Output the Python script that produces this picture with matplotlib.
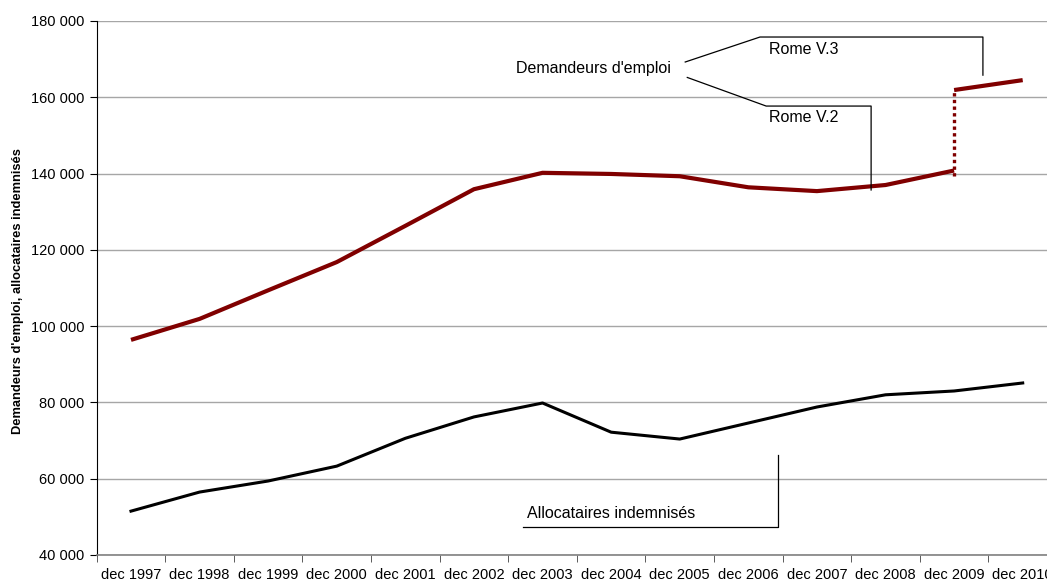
import matplotlib
matplotlib.use("Agg")
import matplotlib.pyplot as plt
import numpy as np
from matplotlib.ticker import FuncFormatter, FixedLocator

plt.rcParams['font.family'] = ['Liberation Sans', 'DejaVu Sans']

categories = ["dec 1997", "dec 1998", "dec 1999", "dec 2000", "dec 2001", "dec 2002",
              "dec 2003", "dec 2004", "dec 2005", "dec 2006", "dec 2007", "dec 2008",
              "dec 2009", "dec 2010"]
demandeurs_v2 = [96400, 101900, 109400, 116800, 126300, 135900, 140200, 139900,
                 139300, 136400, 135400, 137000, 140800]
demandeurs_v3 = [161900, 164500]  # dec 2009, dec 2010
allocataires = [51500, 56500, 59400, 63300, 70600, 76200, 79850, 72200,
                70400, 74600, 78800, 82000, 83000, 85100]

fig = plt.figure(figsize=(10.47, 5.82), dpi=100)
left = 96.7 / 1047
right = 1057 / 1047
top = 1 - 21 / 582
bottom = 1 - 555 / 582
ax = fig.add_axes([left, bottom, right - left, top - bottom])

x = np.arange(len(categories))
red = "#800000"
ax.plot(x[:13], demandeurs_v2, color=red, lw=3.0, solid_capstyle='butt', zorder=3)
ax.plot(x[12:], demandeurs_v3, color=red, lw=3.0, solid_capstyle='butt', zorder=3)
ax.plot([x[12], x[12]], [139300, demandeurs_v3[0]], color=red, lw=2.4,
        linestyle=(0, (1, 1)), zorder=3)
ax.plot(x, allocataires, color="black", lw=2.2, zorder=3)

ax.set_xlim(-0.5, len(categories) - 0.5)
ax.set_ylim(40000, 180000)
ax.set_yticks(np.arange(40000, 180001, 20000))
ax.yaxis.set_major_formatter(FuncFormatter(lambda v, p: f"{int(v):,}".replace(",", " ")))
ax.set_xticks(x)
ax.set_xticklabels(categories)
ax.xaxis.set_minor_locator(FixedLocator(np.arange(-0.5, len(categories), 1.0)))
ax.tick_params(axis='x', which='major', length=0, pad=9.5, labelsize=10.5)
ax.tick_params(axis='x', which='minor', length=5, direction='out', color='#404040')
ax.tick_params(axis='y', length=5, direction='out', labelsize=10.5, pad=4)
ax.grid(axis='y', color='#a6a6a6', lw=1.0)
ax.set_axisbelow(True)
for s in ['top', 'right']:
    ax.spines[s].set_visible(False)
ax.spines['left'].set_color('black')
ax.spines['bottom'].set_color('#808080')
ax.spines['bottom'].set_linewidth(1.2)

fig.text(18 / 1047, 1 - 291 / 582, "Demandeurs d'emploi, allocataires indemnisés",
         rotation=90, ha='center', va='center', fontsize=9.3, fontweight='bold')

# Annotations
lc = dict(color='black', lw=0.9, zorder=4)
ax.plot([8.08, 9.17, 12.42, 12.42], [169250, 175800, 175800, 165800], **lc)
ax.plot([8.11, 9.26, 10.79, 10.79], [165200, 157700, 157700, 135700], **lc)
ax.plot([5.72, 9.43, 9.43], [47300, 47300, 66200], **lc)
ax.text(5.61, 167500, "Demandeurs d'emploi", fontsize=11.5, va='center', ha='left')
ax.text(9.30, 172500, "Rome V.3", fontsize=11.5, va='center', ha='left')
ax.text(9.30, 154600, "Rome V.2", fontsize=11.5, va='center', ha='left')
ax.text(5.77, 51000, "Allocataires indemnisés", fontsize=11.5, va='center', ha='left')

fig.savefig("out.png", dpi=100)
